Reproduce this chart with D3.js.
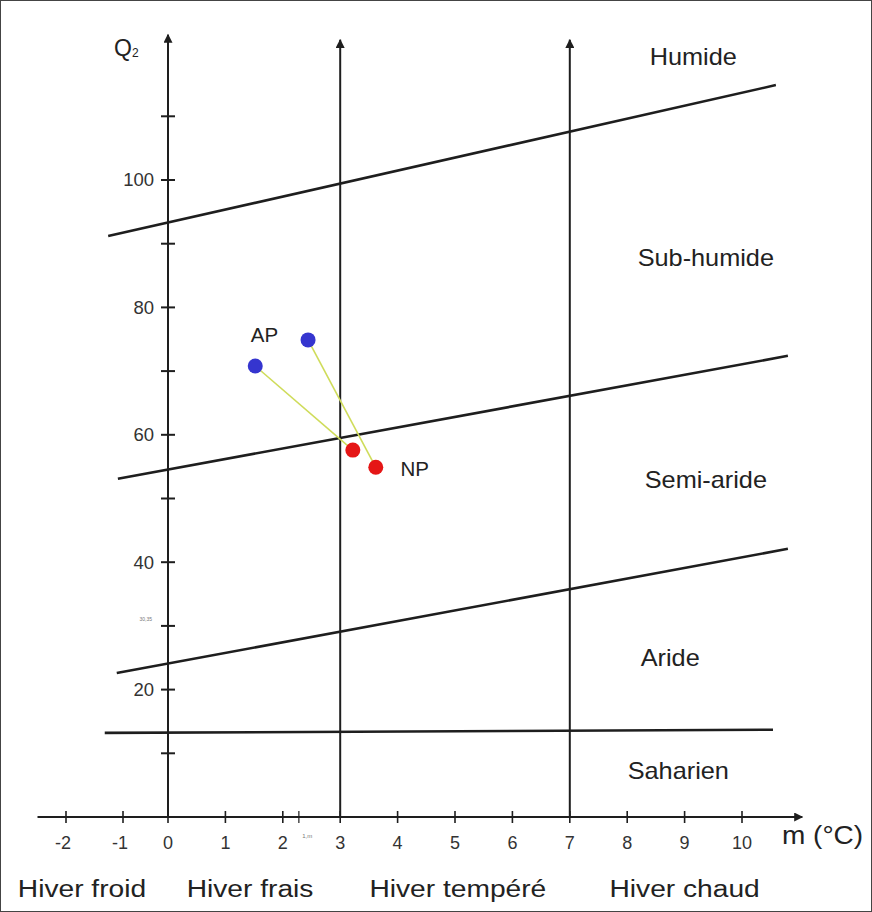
<!DOCTYPE html>
<html>
<head>
<meta charset="utf-8">
<script src="https://cdn.jsdelivr.net/npm/d3@7"></script>
<style>
  html, body { margin: 0; padding: 0; background: #fff; }
  svg { display: block; font-family: "Liberation Sans", Arial, sans-serif; }
</style>
</head>
<body>
<div id="chart"></div>
<script>
// ---- data ----
const xTickValues = [-2, -1, 0, 1, 2, 3, 4, 5, 6, 7, 8, 9, 10];
const xTickLabels = ["-2", "-1", "0", "1", "2", "3", "4", "5", "6", "7", "8", "9", "10"];
const yTickValues = [10, 20, 30, 40, 50, 60, 70, 80, 90, 100, 110];
const yLabelValues = [20, 40, 60, 80, 100];
const verticalLimits = [3, 7];

// boundary lines between bioclimatic zones, [m, Q2] endpoints
const limitHumide = [[-1.26, 91.2], [10.59, 114.9]];
const limitSubHumide = [[-1.09, 53.1], [10.80, 72.4]];
const limitSemiAride = [[-1.11, 22.6], [10.80, 42.1]];
const limitAride = [[-1.32, 13.2], [10.54, 13.7]];

const zoneNames = ["Humide", "Sub-humide", "Semi-aride", "Aride", "Saharien"];
const zoneM = [9.15, 9.37, 9.37, 8.75, 8.89];
const zoneQ = [119.3, 87.8, 52.9, 25.0, 7.2];

const winterNames = ["Hiver froid", "Hiver frais", "Hiver tempéré", "Hiver chaud"];
const winterM = [-1.72, 1.43, 5.05, 9.0];

// stations: AP (blue) -> NP (red)
const apM = [1.52, 2.44];
const apQ = [70.8, 74.9];
const npM = [3.22, 3.62];
const npQ = [57.6, 54.9];

// ---- chart ----
const W = 872, H = 912;
const svg = d3.select("#chart").append("svg").attr("width", W).attr("height", H);

svg.append("rect").attr("x", 0.5).attr("y", 0.5).attr("width", W - 1).attr("height", H - 1)
  .attr("fill", "#fff").attr("stroke", "#444").attr("stroke-width", 1);

const x = d3.scaleLinear().domain([-2, -1, 0, 10]).range([66, 123, 168, 742]);
const y = d3.scaleLinear().domain([0, 100]).range([817, 180]);

const ink = "#1e1e1e";
const defs = svg.append("defs");
defs.append("marker").attr("id", "arr").attr("viewBox", "0 0 10 10")
  .attr("refX", 9).attr("refY", 5).attr("markerWidth", 10).attr("markerHeight", 9)
  .attr("markerUnits", "userSpaceOnUse").attr("orient", "auto")
  .append("path").attr("d", "M0,0 L10,5 L0,10 Z").attr("fill", ink);

const g = svg.append("g");

// helper: horizontally stretched text
function stretched(sel, sx) {
  return sel.attr("transform", function () {
    const tx = +this.getAttribute("x"), ty = +this.getAttribute("y");
    return `translate(${tx},${ty}) scale(${sx},1) translate(${-tx},${-ty})`;
  });
}

// x axis line
g.append("line").attr("x1", x(-2.5)).attr("x2", x(11.05)).attr("y1", y(0)).attr("y2", y(0))
  .attr("stroke", ink).attr("stroke-width", 2).attr("marker-end", "url(#arr)");
// y axis line
g.append("line").attr("x1", x(0)).attr("x2", x(0)).attr("y1", y(0)).attr("y2", y(122.8))
  .attr("stroke", ink).attr("stroke-width", 2).attr("marker-end", "url(#arr)");
// vertical limits
g.selectAll(".vlim").data(verticalLimits).join("line").attr("class", "vlim")
  .attr("x1", d => x(d)).attr("x2", d => x(d)).attr("y1", y(0)).attr("y2", y(122))
  .attr("stroke", ink).attr("stroke-width", 2).attr("marker-end", "url(#arr)");

// x ticks
g.selectAll(".xt").data(xTickValues).join("line").attr("class", "xt")
  .attr("x1", d => x(d)).attr("x2", d => x(d)).attr("y1", y(0) - 6).attr("y2", y(0) + 6)
  .attr("stroke", ink).attr("stroke-width", 1.6);
g.append("line").attr("x1", x(2.28)).attr("x2", x(2.28)).attr("y1", y(0) - 6).attr("y2", y(0) + 6)
  .attr("stroke", ink).attr("stroke-width", 1.2);
g.selectAll(".xl").data(xTickValues).join("text").attr("class", "xl")
  .attr("x", (d, i) => x(d) - (d < 0 ? 3 : 0)).attr("y", y(0) + 32)
  .attr("text-anchor", "middle").attr("font-size", 18).attr("fill", "#333")
  .text((d, i) => xTickLabels[i]);
g.append("text").attr("x", x(2.2) + 8).attr("y", y(0) + 21).attr("font-size", 6).attr("fill", "#777").text("1,m");

// y ticks
g.selectAll(".yt").data(yTickValues).join("line").attr("class", "yt")
  .attr("x1", x(0) - 7).attr("x2", x(0) + 7).attr("y1", d => y(d)).attr("y2", d => y(d))
  .attr("stroke", ink).attr("stroke-width", 2);
g.selectAll(".yl").data(yLabelValues).join("text").attr("class", "yl")
  .attr("x", x(0) - 14).attr("y", d => y(d)).attr("dy", "0.35em")
  .attr("text-anchor", "end").attr("font-size", 18.5).attr("fill", "#333").text(d => d);
g.append("text").attr("x", x(0) - 16).attr("y", y(31)).attr("dy", "0.35em")
  .attr("text-anchor", "end").attr("font-size", 5).attr("fill", "#777").text("30,35");

// axis titles
const q = g.append("text").attr("x", 114).attr("y", 56).attr("font-size", 23).attr("fill", "#222");
q.append("tspan").text("Q");
q.append("tspan").attr("font-size", 12).attr("dy", 1).text("2");
stretched(g.append("text").attr("x", 782).attr("y", y(0) + 27).attr("font-size", 25)
  .attr("fill", "#222").text("m (°C)"), 1.12);

// boundary lines
const lineGen = d3.line().x(d => x(d[0])).y(d => y(d[1]));
g.selectAll(".lim").data([limitHumide, limitSubHumide, limitSemiAride, limitAride]).join("path")
  .attr("class", "lim").attr("d", lineGen).attr("fill", "none")
  .attr("stroke", ink).attr("stroke-width", 2.6);

// zone labels
stretched(g.selectAll(".zone").data(zoneNames).join("text").attr("class", "zone")
  .attr("x", (d, i) => x(zoneM[i])).attr("y", (d, i) => y(zoneQ[i])).attr("dy", "0.35em")
  .attr("text-anchor", "middle").attr("font-size", 23).attr("fill", "#222").text(d => d), 1.1);

// winter labels
stretched(g.selectAll(".winter").data(winterNames).join("text").attr("class", "winter")
  .attr("x", (d, i) => x(winterM[i])).attr("y", 897)
  .attr("text-anchor", "middle").attr("font-size", 24.5).attr("fill", "#222").text(d => d), 1.15);

// station trajectories
g.selectAll(".traj").data(apM).join("line").attr("class", "traj")
  .attr("x1", (d, i) => x(apM[i])).attr("y1", (d, i) => y(apQ[i]))
  .attr("x2", (d, i) => x(npM[i])).attr("y2", (d, i) => y(npQ[i]))
  .attr("stroke", "#cfdc5a").attr("stroke-width", 1.6);
g.selectAll(".ap").data(apM).join("circle").attr("class", "ap")
  .attr("cx", (d, i) => x(apM[i])).attr("cy", (d, i) => y(apQ[i])).attr("r", 7.5)
  .attr("fill", "#3535cf");
g.selectAll(".np").data(npM).join("circle").attr("class", "np")
  .attr("cx", (d, i) => x(npM[i])).attr("cy", (d, i) => y(npQ[i])).attr("r", 7.5)
  .attr("fill", "#e51616");
g.append("text").attr("x", x(1.68)).attr("y", y(74.6)).attr("text-anchor", "middle")
  .attr("font-size", 20.5).attr("fill", "#222").text("AP");
g.append("text").attr("x", x(4.3)).attr("y", y(53.5)).attr("text-anchor", "middle")
  .attr("font-size", 20.5).attr("fill", "#222").text("NP");
</script>
</body>
</html>
